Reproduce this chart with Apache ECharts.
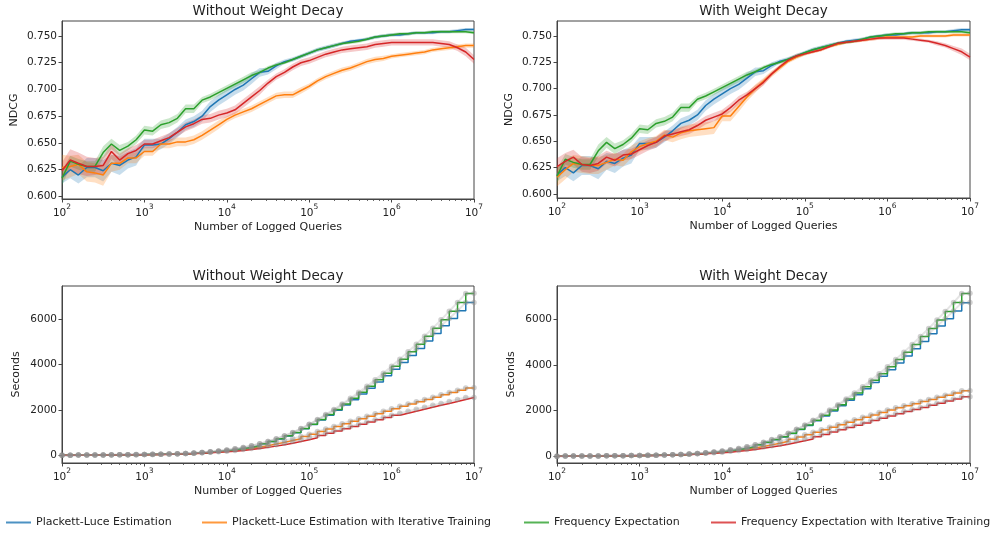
<!DOCTYPE html>
<html><head><meta charset="utf-8">
<script src="https://cdn.jsdelivr.net/npm/echarts@6/dist/echarts.min.js"></script>
<style>html,body{margin:0;padding:0;background:#fff}#c{width:1000px;height:534px}</style>
</head><body><div id="c"></div>
<script>
// ---------- data ----------
const queries = [100,126,158,200,251,316,398,501,631,794,
  1000,1259,1585,1995,2512,3162,3981,5012,6310,7943,
  10000,12589,15849,19953,25119,31623,39811,50119,63096,79433,
  100000,125893,158489,199526,251189,316228,398107,501187,630957,794328,
  1000000,1258925,1584893,1995262,2511886,3162278,3981072,5011872,6309573,7943282,10000000];

const seriesNames = ['Plackett-Luce Estimation','Plackett-Luce Estimation with Iterative Training','Frequency Expectation','Frequency Expectation with Iterative Training'];
const panelTitles = ['Without Weight Decay','With Weight Decay'];
const ndcgTicks = [0.600,0.625,0.650,0.675,0.700,0.725,0.750];
const secondsTicks = [0,2000,4000,6000];
const xMajorTicks = [100,1000,10000,100000,1000000,10000000];

// NDCG means
const plNdcg = [0.618,0.625,0.620,0.627,0.627,0.624,0.631,0.629,0.634,0.637,
  0.648,0.648,0.649,0.654,0.660,0.667,0.670,0.675,0.684,0.690,
  0.695,0.700,0.704,0.710,0.716,0.717,0.722,0.726,0.728,0.731,
  0.734,0.737,0.739,0.741,0.743,0.745,0.746,0.747,0.749,0.750,
  0.751,0.751,0.752,0.753,0.753,0.753,0.754,0.754,0.755,0.756,0.756];
const feNdcg = [0.617,0.633,0.630,0.628,0.628,0.641,0.649,0.643,0.647,0.653,
  0.662,0.661,0.667,0.669,0.673,0.682,0.682,0.690,0.693,0.697,
  0.701,0.705,0.709,0.713,0.716,0.720,0.723,0.725,0.728,0.731,
  0.734,0.737,0.739,0.741,0.743,0.744,0.745,0.747,0.749,0.750,
  0.751,0.752,0.752,0.753,0.753,0.754,0.754,0.754,0.754,0.754,0.753];
const pliNdcgWo = [0.627,0.628,0.630,0.623,0.622,0.620,0.631,0.631,0.636,0.636,
  0.642,0.642,0.649,0.649,0.651,0.651,0.653,0.657,0.662,0.667,
  0.672,0.676,0.679,0.682,0.686,0.690,0.694,0.695,0.695,0.699,
  0.703,0.708,0.712,0.715,0.718,0.720,0.723,0.726,0.728,0.729,
  0.731,0.732,0.733,0.734,0.735,0.737,0.738,0.739,0.740,0.741,0.741];
const feiNdcgWo = [0.624,0.634,0.631,0.628,0.628,0.629,0.642,0.634,0.640,0.643,
  0.649,0.649,0.652,0.655,0.660,0.665,0.668,0.672,0.673,0.676,
  0.678,0.681,0.687,0.693,0.699,0.706,0.712,0.716,0.721,0.725,
  0.727,0.730,0.733,0.735,0.737,0.738,0.739,0.740,0.742,0.743,
  0.744,0.744,0.744,0.744,0.744,0.744,0.743,0.742,0.739,0.735,0.728];
const pliNdcgWd = [0.616,0.623,0.629,0.628,0.627,0.627,0.630,0.633,0.632,0.640,
  0.645,0.648,0.650,0.656,0.654,0.658,0.660,0.661,0.662,0.663,
  0.674,0.674,0.683,0.692,0.700,0.707,0.714,0.720,0.726,0.730,
  0.733,0.735,0.737,0.740,0.742,0.744,0.745,0.746,0.747,0.748,
  0.749,0.749,0.749,0.749,0.750,0.750,0.750,0.750,0.751,0.751,0.751];
const feiNdcgWd = [0.626,0.631,0.635,0.628,0.627,0.629,0.635,0.632,0.637,0.638,
  0.642,0.646,0.649,0.655,0.657,0.659,0.661,0.665,0.670,0.673,
  0.676,0.682,0.689,0.694,0.700,0.706,0.714,0.721,0.727,0.731,
  0.733,0.735,0.737,0.740,0.743,0.744,0.745,0.746,0.747,0.748,
  0.748,0.748,0.748,0.747,0.746,0.745,0.743,0.741,0.738,0.735,0.730];

// NDCG band half-widths
const plBand = [0.006,0.008,0.008,0.009,0.009,0.010,0.008,0.009,0.008,0.008,
  0.006,0.006,0.005,0.005,0.005,0.005,0.005,0.005,0.005,0.005,
  0.005,0.005,0.005,0.005,0.004,0.003,0.003,0.002,0.002,0.002,
  0.002,0.002,0.002,0.002,0.0015,0.0015,0.0015,0.0015,0.0015,0.0015,
  0.0015,0.0015,0.0015,0.0015,0.0015,0.0015,0.0015,0.0015,0.0015,0.0015,0.0015];
const feBand = [0.007,0.005,0.005,0.005,0.005,0.006,0.005,0.005,0.004,0.004,
  0.004,0.004,0.004,0.004,0.004,0.004,0.004,0.003,0.003,0.003,
  0.003,0.003,0.003,0.003,0.002,0.002,0.0015,0.0015,0.0015,0.0015,
  0.0015,0.0015,0.0015,0.0015,0.0015,0.0015,0.0015,0.0015,0.0015,0.0015,
  0.0015,0.0015,0.0015,0.0015,0.0015,0.0015,0.0015,0.0015,0.0015,0.0015,0.0015];
const pliBandWo = [0.012,0.010,0.009,0.009,0.009,0.010,0.008,0.006,0.005,0.005,
  0.004,0.004,0.004,0.004,0.004,0.004,0.004,0.004,0.004,0.004,
  0.003,0.003,0.003,0.003,0.003,0.003,0.003,0.003,0.003,0.003,
  0.0025,0.0025,0.0025,0.0025,0.0025,0.0025,0.0025,0.0025,0.0025,0.0025,
  0.002,0.002,0.002,0.002,0.002,0.002,0.002,0.002,0.002,0.002,0.002];
const feiBandWo = [0.008,0.010,0.010,0.009,0.008,0.008,0.007,0.006,0.005,0.005,
  0.004,0.004,0.004,0.004,0.004,0.004,0.004,0.004,0.004,0.004,
  0.004,0.004,0.004,0.004,0.004,0.003,0.003,0.003,0.003,0.003,
  0.003,0.003,0.003,0.003,0.003,0.003,0.003,0.003,0.003,0.003,
  0.003,0.003,0.003,0.003,0.003,0.003,0.003,0.003,0.003,0.004,0.004];
const pliBandWd = [0.009,0.009,0.008,0.008,0.008,0.008,0.007,0.006,0.006,0.006,
  0.005,0.005,0.005,0.005,0.005,0.006,0.006,0.006,0.006,0.006,
  0.005,0.005,0.005,0.004,0.004,0.003,0.003,0.0025,0.002,0.002,
  0.0015,0.0015,0.0015,0.0015,0.0015,0.0015,0.0015,0.0015,0.0015,0.0015,
  0.0015,0.0015,0.0015,0.0015,0.0015,0.0015,0.0015,0.0015,0.0015,0.0015,0.0015];
const feiBandWd = [0.008,0.008,0.007,0.007,0.007,0.007,0.006,0.006,0.005,0.005,
  0.005,0.005,0.005,0.005,0.004,0.004,0.004,0.004,0.004,0.004,
  0.004,0.004,0.004,0.003,0.003,0.003,0.002,0.002,0.002,0.002,
  0.0015,0.0015,0.0015,0.0015,0.0015,0.0015,0.0015,0.0015,0.0015,0.0015,
  0.0015,0.0015,0.0015,0.0015,0.0015,0.0015,0.002,0.002,0.0025,0.003,0.003];

// Seconds
const plSec = [5,7,9,11,13,16,19,22,26,30,
  35,41,48,57,68,82,100,125,155,190,
  235,285,345,420,510,605,722,850,995,1170,
  1355,1555,1765,1985,2215,2455,2705,2965,3235,3515,
  3800,4095,4400,4715,5040,5375,5720,6040,6380,6740,6745];
const feSec = [5,7,9,11,13,16,19,22,26,30,
  35,41,48,57,68,82,100,125,155,190,
  235,285,345,420,510,610,730,860,1010,1180,
  1370,1578,1797,2026,2266,2517,2778,3050,3333,3626,
  3930,4245,4570,4906,5253,5610,5978,6356,6745,7145,7150];
const pliSecWo = [4,6,8,10,12,14,17,20,24,28,
  33,39,46,55,65,78,95,118,145,175,
  210,250,300,360,425,495,570,650,735,830,
  930,1045,1160,1275,1390,1500,1610,1720,1830,1945,
  2060,2160,2260,2365,2465,2565,2670,2770,2870,2975,2980];
const feiSecWo = [4,6,8,10,12,14,17,20,24,28,
  32,38,44,52,62,74,90,110,130,155,
  180,215,255,300,350,405,465,535,610,690,
  770,870,970,1070,1170,1270,1370,1470,1570,1670,
  1770,1857,1944,2031,2118,2205,2290,2375,2462,2550,2555];
const pliSecWd = [4,6,8,10,12,14,17,20,24,28,
  33,39,46,55,65,78,95,118,145,175,
  210,250,300,360,425,500,575,655,745,840,
  940,1050,1160,1270,1380,1490,1600,1710,1815,1920,
  2030,2125,2220,2310,2400,2495,2590,2680,2775,2870,2875];
const feiSecWd = [4,6,8,10,12,14,17,20,24,28,
  32,38,44,52,62,74,90,110,130,155,
  180,215,255,300,350,405,465,530,605,680,
  760,860,960,1060,1160,1265,1365,1465,1565,1670,
  1770,1865,1960,2050,2145,2240,2330,2425,2515,2610,2615];

// ---------- styling ----------
const colors = ['#1f77b4','#ff7f0e','#2ca02c','#d62728'];
const bandColors = ['rgba(31,119,180,0.25)','rgba(255,127,14,0.25)','rgba(44,160,44,0.25)','rgba(214,39,40,0.25)'];
const FONT = 'DejaVu Sans';
const TXT = '#222';
const AX = '#444';

const grids = [
  {left:62, top:21, width:412, height:178},
  {left:557, top:21, width:413, height:177},
  {left:62, top:286, width:412, height:177},
  {left:557, top:286, width:413, height:177}
];
const yRanges = [[0.5976,0.764],[0.5962,0.7642],[-340,7473],[-296,7473]];

const xMinorTicks = [];
xMajorTicks.slice(0,-1).forEach(d => { for (let m=2;m<=9;m++) xMinorTicks.push(d*m); });

const ndcgPanels = [
  {means:[plNdcg,pliNdcgWo,feNdcg,feiNdcgWo], bands:[plBand,pliBandWo,feBand,feiBandWo]},
  {means:[plNdcg,pliNdcgWd,feNdcg,feiNdcgWd], bands:[plBand,pliBandWd,feBand,feiBandWd]}
];
const secPanels = [[plSec,pliSecWo,feSec,feiSecWo],[plSec,pliSecWd,feSec,feiSecWd]];

const xAxes = [], yAxes = [], series = [], graphics = [];
grids.forEach((g, gi) => {
  xAxes.push({
    type:'log', logBase:10, gridIndex:gi, min:100, max:10000000, position:'bottom',
    name:'Number of Logged Queries', nameLocation:'middle', nameGap:23,
    nameTextStyle:{fontFamily:FONT, fontSize:11, color:TXT},
    axisLine:{show:true, onZero:false, lineStyle:{color:AX, width:1}},
    axisTick:{show:true, length:3.5, customValues:xMajorTicks, lineStyle:{color:AX}},
    axisLabel:{show:true, margin:4, customValues:xMajorTicks,
      formatter: v => '{b|10}{e|' + Math.round(Math.log10(v)) + '}',
      rich:{
        b:{fontFamily:FONT, fontSize:10.5, color:TXT, lineHeight:16, verticalAlign:'bottom'},
        e:{fontFamily:FONT, fontSize:7.5, color:TXT, lineHeight:16, verticalAlign:'top'}
      }},
    splitLine:{show:false}
  });
  const isTop = gi < 2;
  yAxes.push({
    type:'value', gridIndex:gi, min:yRanges[gi][0], max:yRanges[gi][1],
    name: isTop ? 'NDCG' : 'Seconds', nameLocation:'middle', nameGap: isTop ? 42 : 40,
    nameTextStyle:{fontFamily:FONT, fontSize:11, color:TXT},
    axisLine:{show:true, onZero:false, lineStyle:{color:AX, width:1}},
    axisTick:{show:true, length:3.5, customValues: isTop ? ndcgTicks : secondsTicks, lineStyle:{color:AX}},
    axisLabel:{show:true, margin:5, customValues: isTop ? ndcgTicks : secondsTicks,
      fontFamily:FONT, fontSize:10.5, color:TXT,
      formatter: v => isTop ? v.toFixed(3) : String(Math.round(v))},
    splitLine:{show:false}
  });
  graphics.push({
    type:'text', x: g.left + g.width/2, y: g.top - 9.5,
    style:{text: panelTitles[gi % 2], font: '13.5px "DejaVu Sans"', fill: TXT, textAlign:'center', textVerticalAlign:'middle'}
  });
});
// minor tick axes (same place as the main x axes)
grids.forEach((g, gi) => {
  xAxes.push({
    type:'log', logBase:10, gridIndex:gi, min:100, max:10000000, position:'bottom', offset:0,
    axisLine:{show:false, onZero:false}, axisLabel:{show:false}, splitLine:{show:false},
    axisTick:{show:true, length:2, customValues:xMinorTicks, lineStyle:{color:AX, width:0.8}}
  });
});

// NDCG series: shaded band (polygon through the axes' coord mapping) + mean line
ndcgPanels.forEach((p, pi) => {
  p.means.forEach((mean, i) => {
    const hw = p.bands[i];
    series.push({
      type:'custom', xAxisIndex:pi, yAxisIndex:pi, silent:true,
      data: [[queries[0], mean[0]]],
      renderItem: (params, api) => {
        const up = queries.map((q,j) => api.coord([q, mean[j] + hw[j]]));
        const lo = queries.map((q,j) => api.coord([q, mean[j] - hw[j]])).reverse();
        return {type:'polygon', shape:{points: up.concat(lo)}, style:{fill: bandColors[i], stroke:'none'}};
      }
    });
    series.push({
      name: seriesNames[i], type:'line', xAxisIndex:pi, yAxisIndex:pi, symbol:'none', silent:true,
      lineStyle:{color:colors[i], width:1.5}, itemStyle:{color:colors[i]},
      data: queries.map((q,j) => [q, mean[j]])
    });
  });
});
// Seconds series: step lines + grey markers
secPanels.forEach((p, pi) => {
  const gi = 2 + pi;
  p.forEach((vals, i) => {
    series.push({
      name: seriesNames[i], type:'line', xAxisIndex:gi, yAxisIndex:gi, step:'end', symbol:'none', silent:true,
      lineStyle:{color:colors[i], width:1.5}, itemStyle:{color:colors[i]},
      data: queries.map((q,j) => [q, vals[j]])
    });
  });
  p.forEach((vals, i) => {
    series.push({
      type:'line', xAxisIndex:gi, yAxisIndex:gi, symbol:'circle', symbolSize:5.5, showSymbol:true, silent:true,
      lineStyle:{color:'rgba(150,150,150,0.25)', width:2}, itemStyle:{color:'rgba(140,140,140,0.4)', borderWidth:0},
      data: queries.map((q,j) => [q, vals[j]])
    });
  });
});

const legendLefts = [1, 197, 519, 706];
const legends = seriesNames.map((n, i) => ({
  left: legendLefts[i], top: 512, orient:'horizontal', itemWidth:25, itemHeight:2, itemGap:5,
  selectedMode:false,
  textStyle:{fontFamily:FONT, fontSize:11, color:TXT},
  data:[{name:n, icon:'rect', itemStyle:{color:colors[i], opacity:0.8}}]
}));

const chart = echarts.init(document.getElementById('c'), null, {renderer:'canvas'});
chart.setOption({
  animation:false,
  backgroundColor:'#fff',
  grid: grids.map(g => Object.assign({show:true, borderColor:AX, borderWidth:1, backgroundColor:'transparent'}, g)),
  xAxis: xAxes, yAxis: yAxes, series, legend: legends, graphic: graphics,
  tooltip:{show:false}
});
</script></body></html>
